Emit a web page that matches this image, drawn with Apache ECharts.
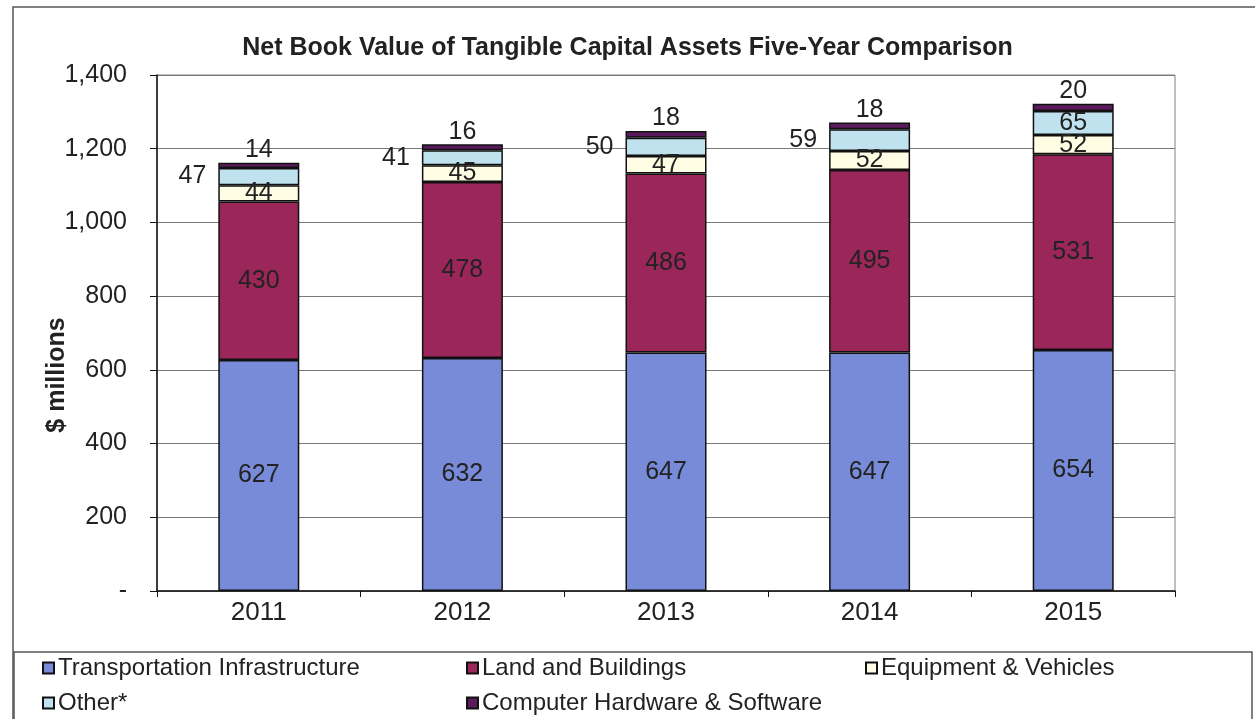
<!DOCTYPE html>
<html>
<head>
<meta charset="utf-8">
<title>Net Book Value of Tangible Capital Assets</title>
<script src="https://cdn.jsdelivr.net/npm/echarts@6/dist/echarts.min.js"></script>
<style>
  html, body { margin: 0; padding: 0; background: #ffffff; }
  #chart { width: 1255px; height: 719px; }
</style>
</head>
<body>
<div id="chart"></div>
<script>
// Net book value by asset class, $ millions
const years = ['2011', '2012', '2013', '2014', '2015'];
const transportation = [627, 632, 647, 647, 654];
const landBuildings = [430, 478, 486, 495, 531];
const equipment = [44, 45, 47, 52, 52];
const other = [47, 41, 50, 59, 65];
const computer = [14, 16, 18, 18, 20];
const yTicks = [0, 200, 400, 600, 800, 1000, 1200, 1400];

const FONT = '"Liberation Sans", Arial, sans-serif';
const TEXT = '#222222';

const seriesDefs = [
  { name: 'Transportation Infrastructure', data: transportation, color: '#778bd8' },
  { name: 'Land and Buildings', data: landBuildings, color: '#9b2659' },
  { name: 'Equipment & Vehicles', data: equipment, color: '#fffde3' },
  { name: 'Other*', data: other, color: '#bfe2ee' },
  { name: 'Computer Hardware & Software', data: computer, color: '#5c1a5e' }
];

const baseLabel = {
  show: true,
  color: TEXT,
  fontFamily: FONT,
  fontSize: 25
};

function buildSeries(def) {
  let data = def.data;
  let label = Object.assign({}, baseLabel, { position: 'inside' });
  if (def.name === 'Other*') {
    // small segments get their value beside the bar; the last one fits inside
    data = def.data.map((v, i) => i < def.data.length - 1
      ? { value: v, label: { position: 'left', distance: 12 } }
      : { value: v, label: { position: 'inside' } });
  }
  if (def.name === 'Computer Hardware & Software') {
    label = Object.assign({}, baseLabel, { position: 'top', distance: 0 });
  }
  return {
    name: def.name,
    type: 'bar',
    stack: 'total',
    barWidth: 81,
    data: data,
    itemStyle: { color: def.color, borderColor: '#111111', borderWidth: 1.5 },
    label: label,
    emphasis: { disabled: true },
    animation: false
  };
}

// one legend per entry so the entries sit in fixed columns
const legendSlots = [
  { left: 42, top: 656 },
  { left: 466, top: 656 },
  { left: 865, top: 656 },
  { left: 42, top: 691 },
  { left: 466, top: 691 }
];
const legends = seriesDefs.map((d, i) => ({
  data: [d.name],
  left: legendSlots[i].left,
  top: legendSlots[i].top,
  orient: 'horizontal',
  itemWidth: 11,
  itemHeight: 11,
  itemGap: 4,
  icon: 'rect',
  padding: 0,
  selectedMode: false,
  textStyle: { fontFamily: FONT, fontSize: 24, color: TEXT, padding: [0, 0, 0, -1] }
}));

const chart = echarts.init(document.getElementById('chart'), null, { renderer: 'canvas' });
chart.setOption({
  backgroundColor: '#ffffff',
  animation: false,
  title: {
    text: 'Net Book Value of Tangible Capital Assets Five-Year Comparison',
    left: 'center',
    top: 31,
    textStyle: { fontFamily: FONT, fontSize: 25, fontWeight: 'bold', color: TEXT }
  },
  legend: legends,
  grid: {
    left: 157, right: 80, top: 75, bottom: 128,
    show: true, borderColor: '#808080', borderWidth: 1, backgroundColor: 'transparent'
  },
  xAxis: {
    type: 'category',
    data: years,
    axisLine: { lineStyle: { color: '#111111', width: 1.5 } },
    axisTick: { show: true, length: 6, lineStyle: { color: '#111111' } },
    axisLabel: { fontFamily: FONT, fontSize: 26, color: TEXT, margin: 9 }
  },
  yAxis: {
    type: 'value',
    min: yTicks[0],
    max: yTicks[yTicks.length - 1],
    interval: 200,
    axisLine: { show: true, lineStyle: { color: '#111111', width: 1.5 } },
    axisTick: { show: true, length: 7, lineStyle: { color: '#111111' } },
    splitLine: { lineStyle: { color: '#7a7a7a', width: 1 } },
    axisLabel: {
      fontFamily: FONT, fontSize: 25, color: TEXT, margin: 30,
      formatter: v => v === 0 ? '-' : v.toLocaleString('en-US')
    }
  },
  graphic: [
    { type: 'rect', shape: { x: 13, y: 7, width: 1260, height: 730 },
      style: { fill: 'none', stroke: '#555555', lineWidth: 1.5 }, silent: true, z: -1 },
    { type: 'rect', shape: { x: 14, y: 652, width: 1238, height: 80 },
      style: { fill: 'none', stroke: '#555555', lineWidth: 1.5 }, silent: true, z: -1 },
    // vertical axis title
    { type: 'text', x: 57, y: 375, rotation: Math.PI / 2, silent: true,
      style: { text: '$ millions', fontFamily: FONT, fontSize: 25, fontWeight: 'bold',
               fill: TEXT, align: 'center', verticalAlign: 'middle' } }
  ],
  series: seriesDefs.map(buildSeries)
});
</script>
</body>
</html>
